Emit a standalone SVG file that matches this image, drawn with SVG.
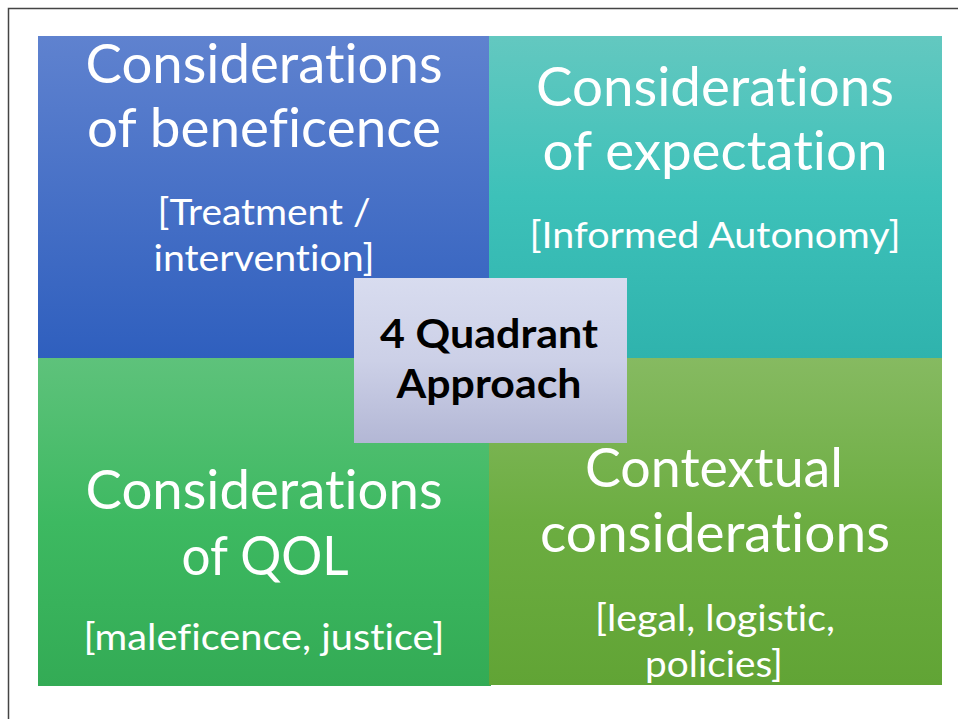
<svg xmlns="http://www.w3.org/2000/svg" width="958" height="719" viewBox="0 0 958 719">
<defs>
<linearGradient id="gBlue" x1="0" y1="0" x2="0" y2="1"><stop offset="0" stop-color="#5f82cf"/><stop offset="1" stop-color="#2f5fbe"/></linearGradient>
<linearGradient id="gTeal" x1="0" y1="0" x2="0" y2="1"><stop offset="0" stop-color="#63c8c0"/><stop offset="0.5" stop-color="#3dc1b9"/><stop offset="1" stop-color="#2fb3ad"/></linearGradient>
<linearGradient id="gGreen" x1="0" y1="0" x2="0" y2="1"><stop offset="0" stop-color="#5ec27b"/><stop offset="0.5" stop-color="#3db961"/><stop offset="1" stop-color="#33ab55"/></linearGradient>
<linearGradient id="gOlive" x1="0" y1="0" x2="0" y2="1"><stop offset="0" stop-color="#86ba61"/><stop offset="0.5" stop-color="#6cad41"/><stop offset="1" stop-color="#61a435"/></linearGradient>
<linearGradient id="gCenter" x1="0" y1="0" x2="0" y2="1"><stop offset="0" stop-color="#d8dcef"/><stop offset="0.5" stop-color="#ccd0e7"/><stop offset="1" stop-color="#b3b7d5"/></linearGradient>
</defs>
<style>
text{font-variant-ligatures:none;font-feature-settings:"liga" 0,"clig" 0}
.t{font-family:Lato,"Open Sans","Liberation Sans",sans-serif;fill:#ffffff;text-anchor:middle}
.h{font-size:54px}
.s{font-size:37px}
.c{font-family:Lato,"Open Sans","Liberation Sans",sans-serif;font-weight:bold;font-size:40px;fill:#000000;text-anchor:middle}
</style>
<rect x="8.5" y="8.5" width="1100" height="1100" fill="none" stroke="#444444" stroke-width="1.5"/>
<g id="q-beneficence">
<rect x="38" y="36" width="451" height="322" fill="url(#gBlue)"/>
<text class="t h" x="264" y="83" textLength="357" lengthAdjust="spacingAndGlyphs">Considerations</text>
<text class="t h" x="264" y="147" textLength="354" lengthAdjust="spacingAndGlyphs">of beneficence</text>
<text class="t s" x="264" y="225" textLength="213" lengthAdjust="spacingAndGlyphs">[Treatment /</text>
<text class="t s" x="264" y="271" textLength="221" lengthAdjust="spacingAndGlyphs">intervention]</text>
</g>
<g id="q-expectation">
<rect x="489" y="36" width="453" height="322" fill="url(#gTeal)"/>
<text class="t h" x="715" y="106" textLength="358" lengthAdjust="spacingAndGlyphs">Considerations</text>
<text class="t h" x="715" y="170" textLength="345" lengthAdjust="spacingAndGlyphs">of expectation</text>
<text class="t s" x="715" y="248" textLength="371" lengthAdjust="spacingAndGlyphs">[Informed Autonomy]</text>
</g>
<g id="q-qol">
<rect x="38" y="358" width="453" height="328" fill="url(#gGreen)"/>
<text class="t h" x="264" y="509" textLength="357" lengthAdjust="spacingAndGlyphs">Considerations</text>
<text class="t h" x="265" y="575" textLength="167" lengthAdjust="spacingAndGlyphs">of QOL</text>
<text class="t s" x="264" y="650" textLength="361" lengthAdjust="spacingAndGlyphs">[maleficence, justice]</text>
</g>
<g id="q-contextual">
<rect x="489" y="358" width="453" height="327" fill="url(#gOlive)"/>
<text class="t h" x="714" y="487" textLength="258" lengthAdjust="spacingAndGlyphs">Contextual</text>
<text class="t h" x="715" y="552" textLength="350" lengthAdjust="spacingAndGlyphs">considerations</text>
<text class="t s" x="715" y="631" textLength="240" lengthAdjust="spacingAndGlyphs">[legal, logistic,</text>
<text class="t s" x="714" y="677" textLength="138" lengthAdjust="spacingAndGlyphs">policies]</text>
</g>
<g id="center">
<rect x="354" y="278" width="273" height="165" fill="url(#gCenter)"/>
<text class="c" x="489" y="348" textLength="218" lengthAdjust="spacingAndGlyphs">4 Quadrant</text>
<text class="c" x="489" y="398" textLength="185" lengthAdjust="spacingAndGlyphs">Approach</text>
</g>
<g id="connectors"/>
</svg>
